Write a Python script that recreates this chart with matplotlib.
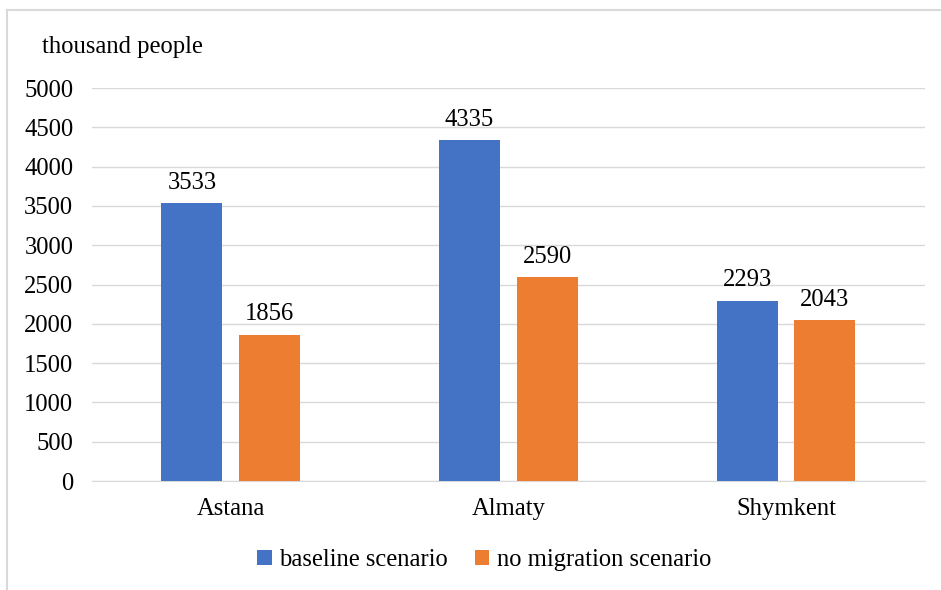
import matplotlib.pyplot as plt
import numpy as np

cities = ['Astana', 'Almaty', 'Shymkent']
baseline = [3533, 4335, 2293]
no_migration = [1856, 2590, 2043]

plt.rcParams['font.family'] = ['Liberation Serif', 'DejaVu Serif']
fs = 17.7

fig = plt.figure(figsize=(9.41, 5.9), dpi=100)
ax = fig.add_axes([0.0978, 0.1847, 0.885, 0.6661])

x = np.arange(len(cities))
w = 0.22
b1 = ax.bar(x - 0.14, baseline, w, color='#4472C4', label='baseline scenario', zorder=3)
b2 = ax.bar(x + 0.14, no_migration, w, color='#ED7D31', label='no migration scenario', zorder=3)

for bars in (b1, b2):
    for r in bars:
        ax.annotate(str(int(r.get_height())), (r.get_x() + r.get_width() / 2, r.get_height()),
                    xytext=(0, 7), textcoords='offset points', ha='center', va='bottom',
                    fontsize=fs, color='#000000')

ax.set_xlim(-0.5, 2.5)
ax.set_ylim(0, 5000)
ax.set_yticks(range(0, 5001, 500))
ax.set_xticks(x)
ax.set_xticklabels(cities)
ax.tick_params(length=0, labelsize=fs, colors='#000000')
ax.tick_params(axis='y', pad=13.5)
ax.tick_params(axis='x', pad=12)
ax.yaxis.grid(True, color='#D9D9D9', linewidth=1, zorder=0)
for s in ['top', 'right', 'left']:
    ax.spines[s].set_visible(False)
ax.spines['bottom'].set_color('#D9D9D9')

fig.text(42 / 941, 1 - 47 / 590, 'thousand people', fontsize=fs, va='center', ha='left')

fig.legend(handles=[b1, b2], loc='center', bbox_to_anchor=(484 / 941, 1 - 560 / 590),
           ncol=2, frameon=False, fontsize=fs, handlelength=0.6, handleheight=0.6,
           handletextpad=0.3, columnspacing=1.1)

# chart frame (left and top visible)
fig.add_artist(plt.Line2D([7 / 941, 7 / 941], [1 - 10 / 590, 0], color='#D9D9D9', lw=1.5))
fig.add_artist(plt.Line2D([7 / 941, 1], [1 - 10 / 590, 1 - 10 / 590], color='#D9D9D9', lw=1.5))

fig.savefig('out.png', dpi=100)
